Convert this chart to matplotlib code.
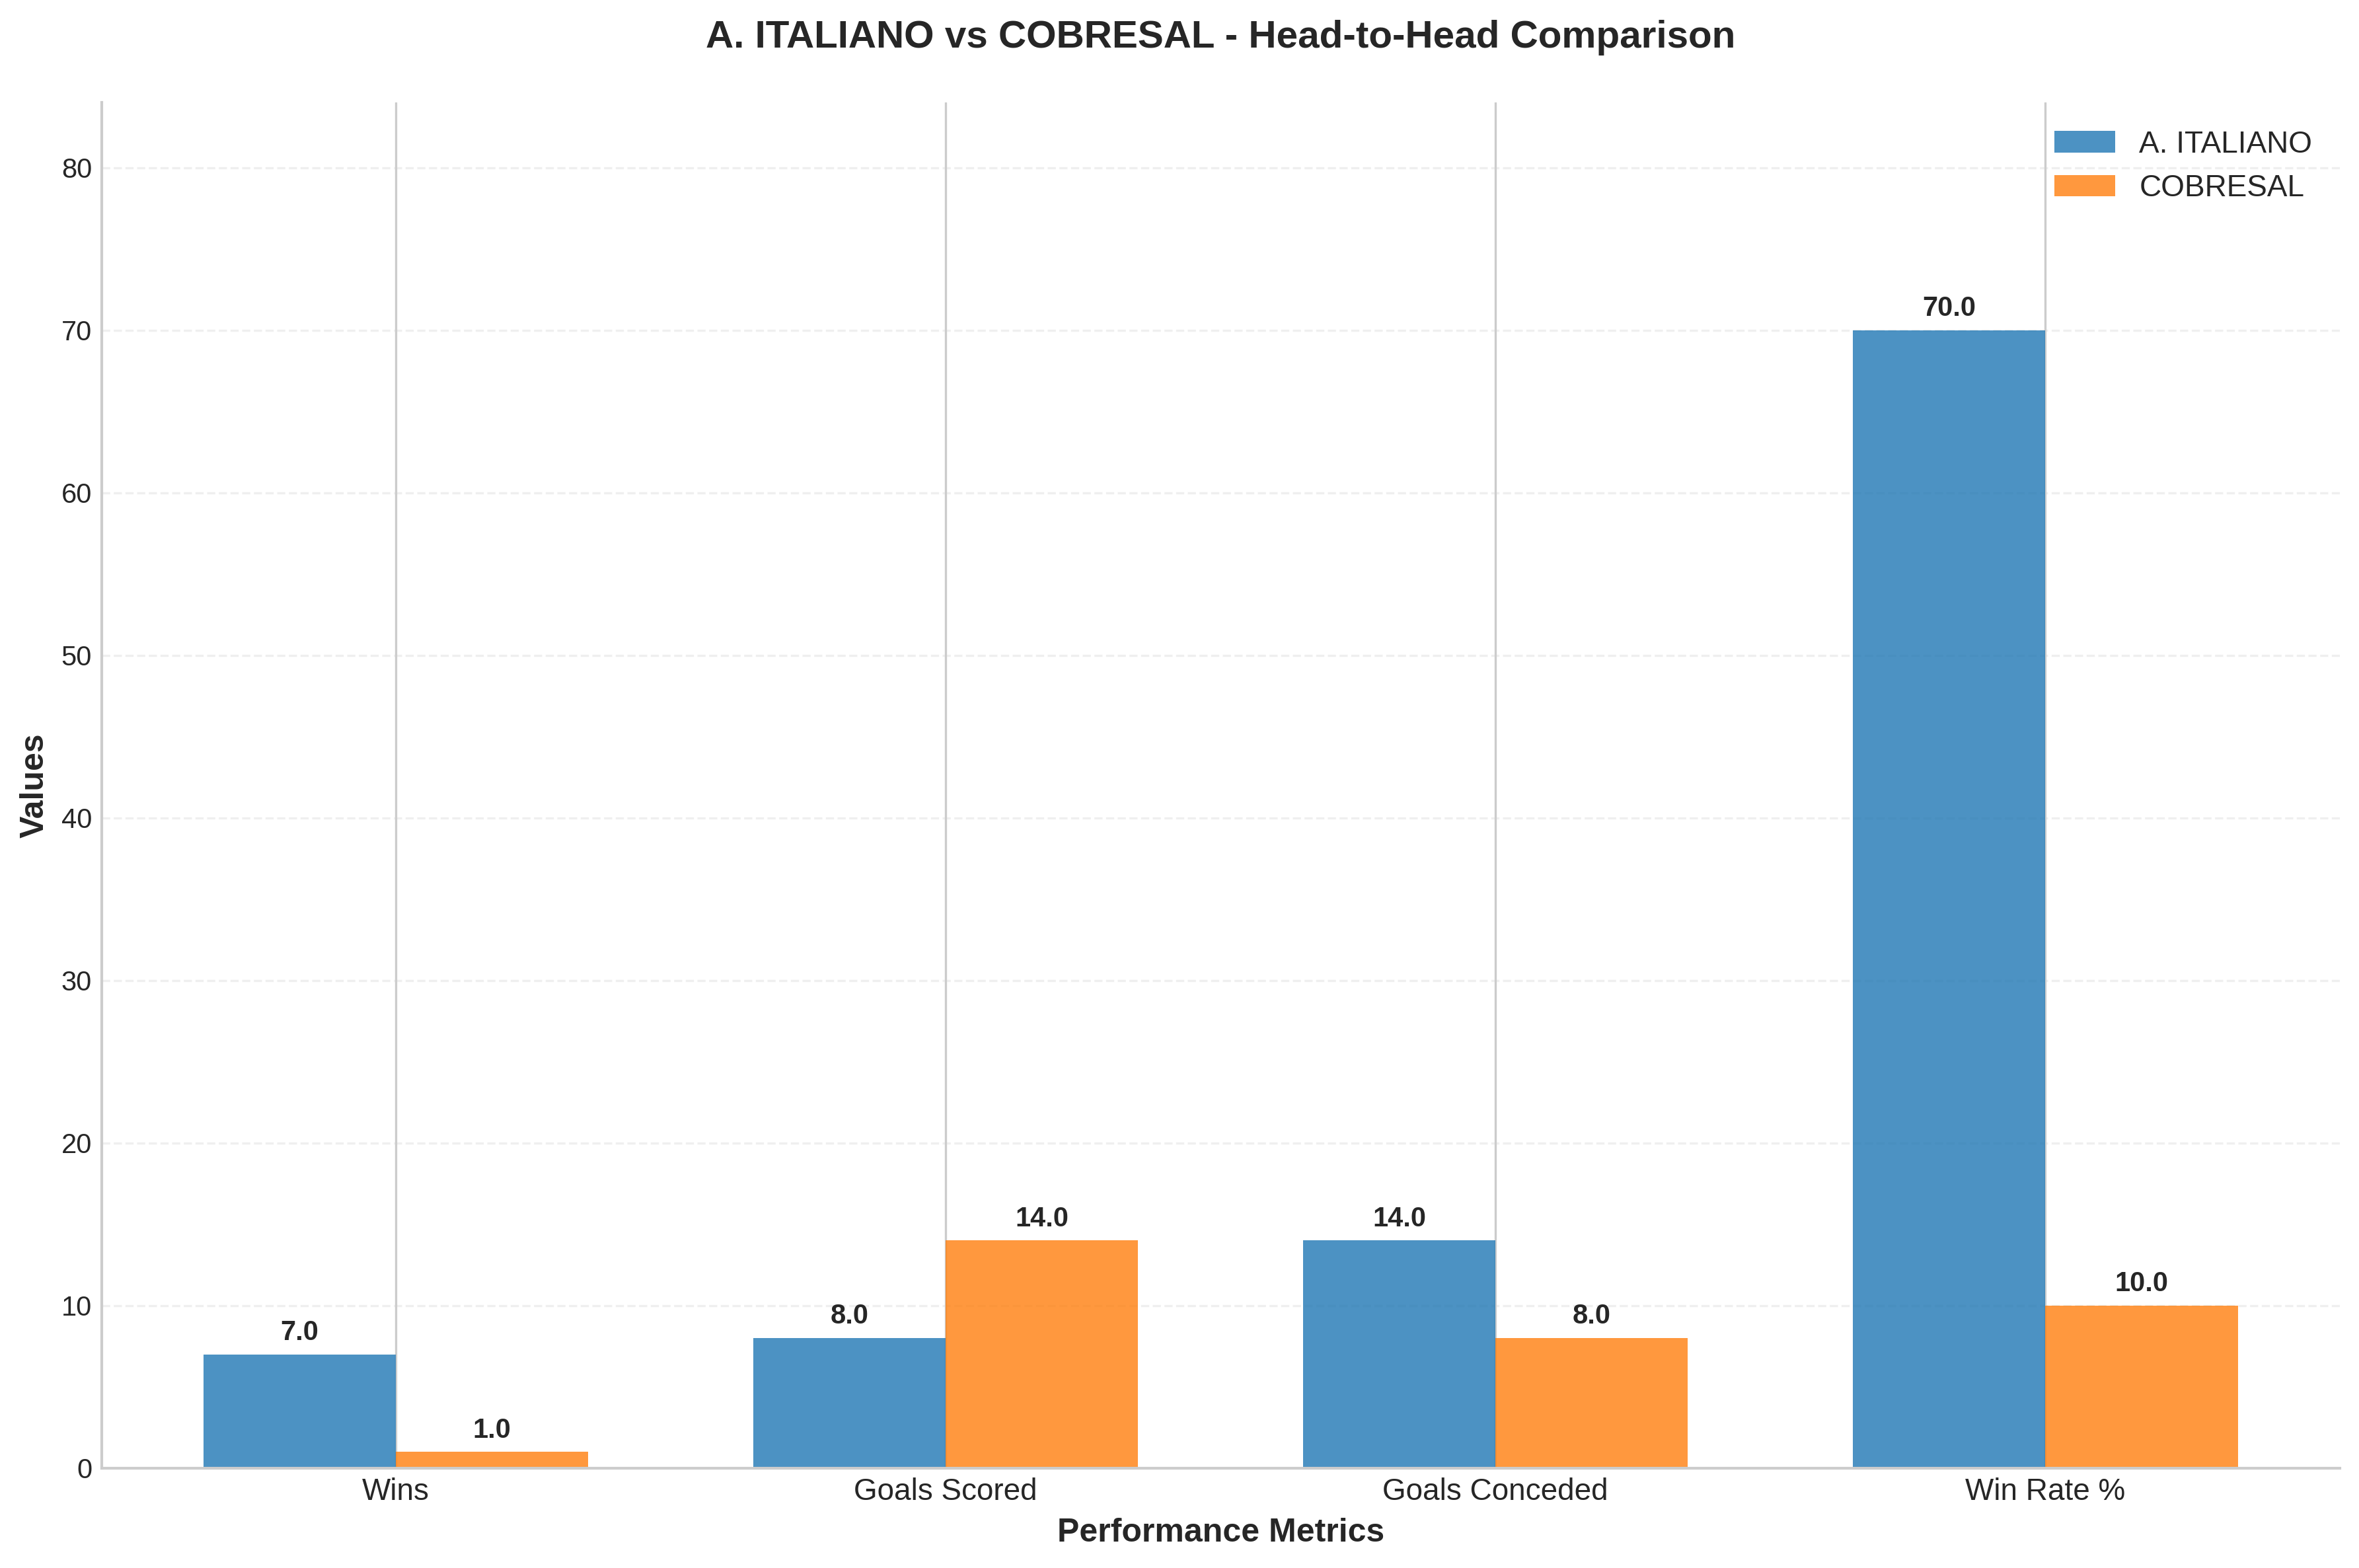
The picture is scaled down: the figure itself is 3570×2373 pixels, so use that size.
"""Head-to-head comparison bar chart: A. ITALIANO vs COBRESAL."""

import matplotlib
matplotlib.use("Agg")
import matplotlib.pyplot as plt
import numpy as np

plt.style.use("seaborn-v0_8-whitegrid")
plt.rcParams["font.family"] = ["Liberation Sans", "DejaVu Sans"]

# Data
metrics = ["Wins", "Goals Scored", "Goals Conceded", "Win Rate %"]
team_a = "A. ITALIANO"
team_b = "COBRESAL"
team_a_values = [7.0, 8.0, 14.0, 70.0]
team_b_values = [1.0, 14.0, 8.0, 10.0]

x = np.arange(len(metrics))
width = 0.35

fig, ax = plt.subplots(figsize=(12, 7.99))
bars_a = ax.bar(x - width / 2, team_a_values, width, label=team_a, color="#1f77b4", alpha=0.8)
bars_b = ax.bar(x + width / 2, team_b_values, width, label=team_b, color="#ff7f0e", alpha=0.8)

for bars in (bars_a, bars_b):
    for bar in bars:
        h = bar.get_height()
        ax.annotate(f"{h:.1f}", xy=(bar.get_x() + bar.get_width() / 2, h),
                    xytext=(0, 3), textcoords="offset points",
                    ha="center", va="bottom", fontsize=10, fontweight="bold")

ax.set_title(f"{team_a} vs {team_b} - Head-to-Head Comparison", fontsize=14, fontweight="bold", pad=20)
ax.set_xlabel("Performance Metrics", fontsize=12, fontweight="bold")
ax.set_ylabel("Values", fontsize=12, fontweight="bold")
ax.set_xticks(x)
ax.set_xticklabels(metrics, fontsize=11)
ax.set_ylim(0, max(team_a_values + team_b_values) * 1.2)
ax.grid(axis="y", linestyle="--", alpha=0.3)
ax.legend(fontsize=11)
ax.spines["top"].set_visible(False)
ax.spines["right"].set_visible(False)

fig.tight_layout()
fig.savefig("out.png", dpi=300, bbox_inches="tight")
plt.close(fig)
